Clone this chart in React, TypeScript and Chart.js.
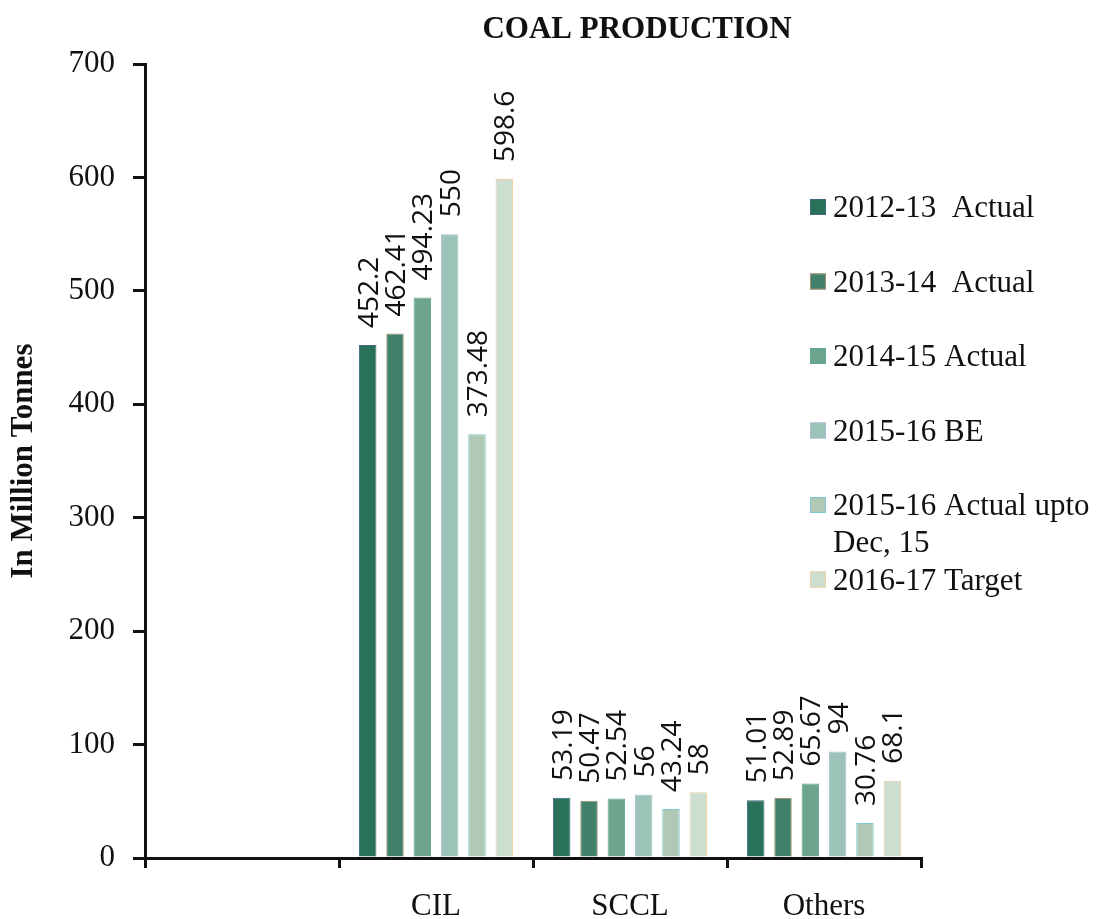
import { useEffect, useRef } from "react";
import { Chart, registerables } from "chart.js";

Chart.register(...registerables);

const categories = ["", "CIL", "SCCL", "Others"];
const seriesLabels = [
  "2012-13  Actual",
  "2013-14  Actual",
  "2014-15 Actual",
  "2015-16 BE",
  "2015-16 Actual upto Dec, 15",
  "2016-17 Target",
];
const actual2012_13 = [null, 452.2, 53.19, 51.01];
const actual2013_14 = [null, 462.41, 50.47, 52.89];
const actual2014_15 = [null, 494.23, 52.54, 65.67];
const be2015_16 = [null, 550, 56, 94];
const actualUptoDec2015 = [null, 373.48, 43.24, 30.76];
const target2016_17 = [null, 598.6, 58, 68.1];
const yTickValues = [0, 100, 200, 300, 400, 500, 600, 700];

const fillColors = ["#2a715a", "#41806a", "#6ca48e", "#9bc3b7", "#b2c8b6", "#cbdecf"];
const borderColors = ["#3f6d80", "#a89070", "#5faa8c", "#a9bfcc", "#7cc8d4", "#f0cfa0"];

const TITLE = "COAL PRODUCTION";
const SERIF = "'Liberation Serif', 'Times New Roman', serif";
const SANS = "'Open Sans', 'DejaVu Sans', sans-serif";

const valueLabelPlugin = {
  id: "valueLabels",
  afterDatasetsDraw(chart: any) {
    const ctx = chart.ctx;
    const size = 28;
    ctx.save();
    ctx.font = `${size}px ${SANS}`;
    ctx.fillStyle = "#111";
    ctx.textAlign = "left";
    ctx.textBaseline = "alphabetic";
    chart.data.datasets.forEach((ds: any, di: number) => {
      const meta = chart.getDatasetMeta(di);
      meta.data.forEach((el: any, i: number) => {
        const v = ds.data[i];
        if (v === null || v === undefined) return;
        ctx.save();
        ctx.translate(el.x + 0.357 * size, el.y - 17);
        ctx.rotate(-Math.PI / 2);
        ctx.fillText(String(v), 0, 0);
        ctx.restore();
      });
    });
    ctx.restore();
  },
};

const titleLegendPlugin = {
  id: "titleLegend",
  afterDraw(chart: any) {
    const ctx = chart.ctx;
    ctx.save();
    // title
    ctx.font = `bold 31px ${SERIF}`;
    ctx.fillStyle = "#111";
    ctx.textAlign = "center";
    ctx.textBaseline = "alphabetic";
    ctx.fillText(TITLE, 637, 38);

    // legend
    const boxX = 810;
    const textX = 833;
    const boxSize = 16;
    const startY = 207;
    const step = 74.5;
    const lineH = 37;
    const maxW = 266;
    ctx.font = `31px ${SERIF}`;
    ctx.textAlign = "left";
    ctx.textBaseline = "middle";
    chart.data.datasets.forEach((ds: any, i: number) => {
      const cy = startY + i * step;
      ctx.fillStyle = ds.backgroundColor;
      ctx.fillRect(boxX, cy - boxSize / 2, boxSize, boxSize);
      ctx.strokeStyle = ds.borderColor;
      ctx.lineWidth = 1;
      ctx.strokeRect(boxX + 0.5, cy - boxSize / 2 + 0.5, boxSize - 1, boxSize - 1);
      // wrap text
      const words = String(ds.label).split(" ");
      const lines: string[] = [];
      let cur = "";
      words.forEach((w) => {
        const test = cur === "" ? w : cur + " " + w;
        if (ctx.measureText(test).width > maxW && cur.trim() !== "") {
          lines.push(cur);
          cur = w;
        } else {
          cur = test;
        }
      });
      lines.push(cur);
      ctx.fillStyle = "#111";
      lines.forEach((ln, li) => {
        ctx.fillText(ln, textX, cy + 2 + li * lineH);
      });
    });
    ctx.restore();
  },
};

export default function App() {
  const canvasRef = useRef<HTMLCanvasElement | null>(null);

  useEffect(() => {
    if (!canvasRef.current) return;
    const seriesData = [
      actual2012_13,
      actual2013_14,
      actual2014_15,
      be2015_16,
      actualUptoDec2015,
      target2016_17,
    ];
    const chart = new Chart(canvasRef.current, {
      type: "bar",
      data: {
        labels: categories,
        datasets: seriesData.map((d, i) => ({
          label: seriesLabels[i],
          data: d as any,
          backgroundColor: fillColors[i],
          borderColor: borderColors[i],
          borderWidth: 1,
          categoryPercentage: 0.845,
          barPercentage: 0.64,
        })),
      },
      options: {
        responsive: false,
        animation: false,
        devicePixelRatio: 1,
        layout: { padding: { top: 64, right: 179, bottom: 0, left: 0 } },
        plugins: {
          legend: { display: false },
          title: { display: false },
          tooltip: { enabled: false },
        },
        scales: {
          x: {
            afterFit: (scale: any) => {
              scale.height = 61;
            },
            grid: {
              display: true,
              drawOnChartArea: false,
              drawTicks: true,
              tickLength: 10,
              color: "#111",
              lineWidth: 3,
              offset: true,
            },
            border: { display: true, color: "#111", width: 3 },
            ticks: {
              color: "#111",
              font: { family: SERIF, size: 31 },
              padding: 20,
            },
          },
          y: {
            min: 0,
            max: 700,
            afterFit: (scale: any) => {
              scale.width = 145;
            },
            afterBuildTicks: (scale: any) => {
              scale.ticks = yTickValues.map((v) => ({ value: v }));
            },
            grid: {
              display: true,
              drawOnChartArea: false,
              drawTicks: true,
              tickLength: 12,
              color: "#111",
              lineWidth: 3,
            },
            border: { display: true, color: "#111", width: 3 },
            ticks: {
              color: "#111",
              font: { family: SERIF, size: 31 },
              padding: 18,
            },
            title: {
              display: true,
              text: "In Million Tonnes",
              color: "#111",
              font: { family: SERIF, size: 31, weight: "bold" },
              padding: { top: 5, bottom: 0 },
            },
          },
        },
      },
      plugins: [valueLabelPlugin, titleLegendPlugin],
    });
    return () => chart.destroy();
  }, []);

  return (
    <div style={{ position: "fixed", left: 0, top: 0, width: 1100, height: 919, background: "#fff" }}>
      <canvas ref={canvasRef} width={1100} height={919} style={{ display: "block" }} />
    </div>
  );
}
